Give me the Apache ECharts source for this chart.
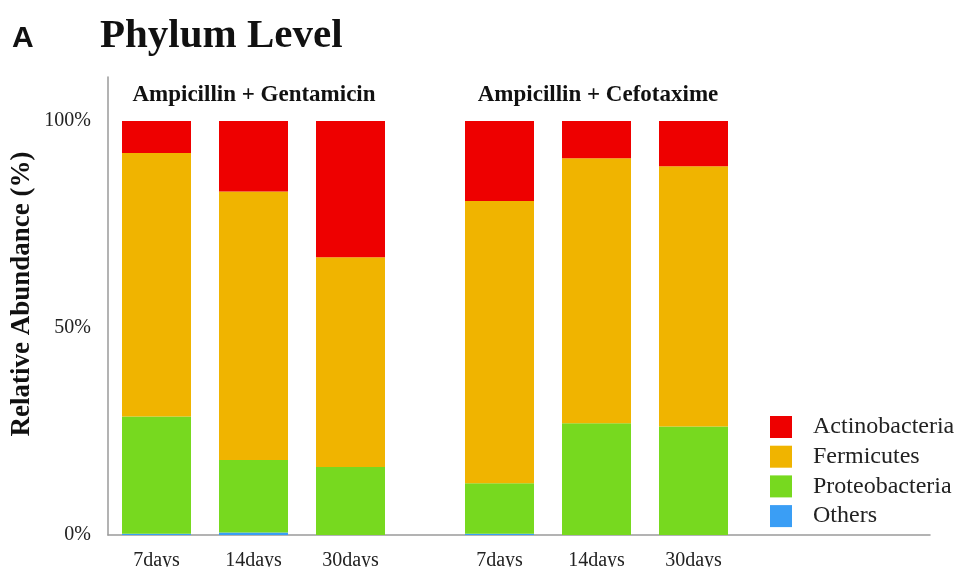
<!DOCTYPE html>
<html>
<head>
<meta charset="utf-8">
<script src="https://cdn.jsdelivr.net/npm/echarts@6/dist/echarts.min.js"></script>
<style>
html, body { margin: 0; padding: 0; background: #fff; }
#chart { width: 961px; height: 567px; }
</style>
</head>
<body>
<div id="chart"></div>
<script>
// data (percent of reads)
const days = ['7days', '14days', '30days'];
const groups = ['Ampicillin + Gentamicin', 'Ampicillin + Cefotaxime'];
const phyla = ['Actinobacteria', 'Fermicutes', 'Proteobacteria', 'Others'];
const yTicks = [0, 50, 100];

// Ampicillin + Gentamicin
const agOthers = [0.3, 0.6, 0];
const agProteo = [28.3, 17.5, 16.4];
const agFermi = [63.7, 64.9, 50.7];
const agActino = [7.7, 17.0, 32.9];

// Ampicillin + Cefotaxime
const acOthers = [0.3, 0, 0];
const acProteo = [12.2, 27.0, 26.2];
const acFermi = [68.2, 64.0, 62.9];
const acActino = [19.3, 9.0, 10.9];

const colors = {
  Actinobacteria: '#ee0000',
  Fermicutes: '#f0b400',
  Proteobacteria: '#77d91f',
  Others: '#3a9ef5'
};

const serif = 'Liberation Serif';
const gray = '#9a9a9a';

function makeSeries(idx, stack, others, proteo, fermi, actino) {
  // bottom to top
  const parts = [['Others', others], ['Proteobacteria', proteo], ['Fermicutes', fermi], ['Actinobacteria', actino]];
  return parts.map(function (p) {
    return {
      name: p[0],
      type: 'bar',
      stack: stack,
      xAxisIndex: idx,
      yAxisIndex: idx,
      barWidth: 69,
      itemStyle: { color: colors[p[0]] },
      data: p[1]
    };
  });
}

const chart = echarts.init(document.getElementById('chart'));
chart.setOption({
  animation: false,
  title: [
    { text: 'A', left: 12, top: 24, padding: 0, textStyle: { fontFamily: 'Liberation Sans', fontWeight: 'bold', fontSize: 30, color: '#111' } },
    { text: 'Phylum Level', left: 100, top: 16, padding: 0, textStyle: { fontFamily: serif, fontWeight: 'bold', fontSize: 41, color: '#111' } },
    { text: groups[0], left: 254, top: 84, padding: 0, textAlign: 'center', textStyle: { fontFamily: serif, fontWeight: 'bold', fontSize: 23, color: '#111' } },
    { text: groups[1], left: 598, top: 84, padding: 0, textAlign: 'center', textStyle: { fontFamily: serif, fontWeight: 'bold', fontSize: 23, color: '#111' } }
  ],
  legend: {
    orient: 'vertical',
    left: 770,
    top: 415,
    padding: 0,
    data: phyla,
    icon: 'rect',
    itemWidth: 22,
    itemHeight: 22,
    itemGap: 5.7,
    selectedMode: false,
    textStyle: { fontFamily: serif, fontSize: 24, color: '#222', lineHeight: 22, padding: [0, 0, 0, 16] }
  },
  grid: [
    { left: 108, right: 31, top: 77, bottom: 32, outerBoundsMode: 'none' },
    { left: 108, width: 291, top: 121, bottom: 32, outerBoundsMode: 'none' },
    { left: 451, width: 291, top: 121, bottom: 32, outerBoundsMode: 'none' }
  ],
  xAxis: [
    {
      type: 'value', gridIndex: 0,
      axisLine: { show: true, onZero: false, lineStyle: { color: gray, width: 1.5 } },
      axisTick: { show: false }, axisLabel: { show: false }, splitLine: { show: false }
    },
    {
      type: 'category', gridIndex: 1, data: days,
      axisLine: { show: false }, axisTick: { show: false },
      axisLabel: { margin: 16, fontFamily: serif, fontSize: 20, color: '#222' }
    },
    {
      type: 'category', gridIndex: 2, data: days,
      axisLine: { show: false }, axisTick: { show: false },
      axisLabel: { margin: 16, fontFamily: serif, fontSize: 20, color: '#222' }
    }
  ],
  yAxis: [
    {
      type: 'value', gridIndex: 0,
      name: 'Relative Abundance (%)',
      nameLocation: 'middle',
      nameGap: 72,
      nameTextStyle: { fontFamily: serif, fontWeight: 'bold', fontSize: 27, color: '#111', padding: [0, 0, 0, 24] },
      axisLine: { show: true, onZero: false, lineStyle: { color: gray, width: 1.5 } },
      axisTick: { show: false }, axisLabel: { show: false }, splitLine: { show: false }
    },
    {
      type: 'value', gridIndex: 1, min: yTicks[0], max: yTicks[yTicks.length - 1], interval: 50,
      axisLine: { show: false }, axisTick: { show: false }, splitLine: { show: false },
      axisLabel: { margin: 17, fontFamily: serif, fontSize: 20, color: '#222', formatter: '{value}%' }
    },
    {
      type: 'value', gridIndex: 2, min: yTicks[0], max: yTicks[yTicks.length - 1], interval: 50,
      axisLine: { show: false }, axisTick: { show: false }, splitLine: { show: false },
      axisLabel: { show: false }
    }
  ],
  series: makeSeries(1, 'ag', agOthers, agProteo, agFermi, agActino)
    .concat(makeSeries(2, 'ac', acOthers, acProteo, acFermi, acActino))
});
</script>
</body>
</html>
